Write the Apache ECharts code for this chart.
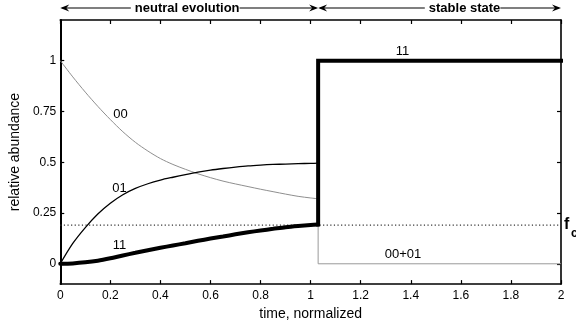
<!DOCTYPE html>
<html><head><meta charset="utf-8">
<script src="https://cdn.jsdelivr.net/npm/echarts@6/dist/echarts.min.js"></script>
<style>html,body{margin:0;padding:0;background:#fff}#c{width:576px;height:326px}</style>
</head><body><div id="c"></div>
<script>
// ---- data ----
const timeNeutral = [0,0.05,0.1,0.15,0.2,0.25,0.3,0.35,0.4,0.45,0.5,0.55,0.6,0.65,0.7,0.75,0.8,0.85,0.9,0.95,1.0,1.03];
const freq00 = [1.00,0.92,0.845,0.775,0.71,0.65,0.598,0.555,0.518,0.489,0.465,0.443,0.424,0.407,0.393,0.38,0.367,0.355,0.343,0.332,0.324,0.32];
const freq01 = [0,0.10,0.178,0.245,0.298,0.34,0.371,0.394,0.412,0.426,0.439,0.451,0.461,0.469,0.476,0.482,0.486,0.489,0.491,0.493,0.494,0.495];
const freq11 = [0,0.002,0.007,0.015,0.027,0.041,0.054,0.067,0.079,0.09,0.101,0.113,0.124,0.134,0.145,0.155,0.164,0.172,0.18,0.186,0.191,0.193];
const timeStable = [1.03,1.03,2];
const stable11 = [0.193,1,1];
const stable0001 = [0.32,0,0];
const fcTime = [0,2];
const fcLevel = [0.19,0.19];
const yTicks = [0,0.25,0.5,0.75,1];
const yTickLabels = ['0','0.25','0.5','0.75','1'];
const curveLabels = [
  {text:'00', x:0.241, y:0.736},
  {text:'01', x:0.237, y:0.369},
  {text:'11', x:0.237, y:0.089},
  {text:'11', x:1.367, y:1.046},
  {text:'00+01', x:1.369, y:0.046}
];
const phases = [
  {text:'neutral evolution', from:0, to:1.03},
  {text:'stable state', from:1.03, to:2}
];

const zip = (xs, ys) => xs.map((x,i)=>[x, ys[i]]);
const FONT = '"Liberation Sans", Arial, Helvetica, sans-serif';
const chart = echarts.init(document.getElementById('c'), null, {renderer:'canvas'});

const axisLineStyle = {color:'#000', width:1.6};
const option = {
  animation:false,
  backgroundColor:'#fff',
  textStyle:{fontFamily:FONT},
  grid:{left:56, right:15, top:20, bottom:39, containLabel:false},
  xAxis:[
    {type:'value', min:0, max:2, interval:0.2, position:'bottom',
     name:'time, normalized', nameLocation:'middle', nameGap:20,
     nameTextStyle:{fontFamily:FONT, fontSize:14, color:'#000'},
     axisLine:{show:true, onZero:false, lineStyle:axisLineStyle},
     axisTick:{show:true, inside:true, length:4, lineStyle:{color:'#000', width:1.2}},
     axisLabel:{fontFamily:FONT, fontSize:12, color:'#000', margin:6,
       formatter:v=>String(+(+v).toFixed(1))},
     splitLine:{show:false}},
    {type:'value', min:0, max:2, interval:0.2, position:'top',
     axisLine:{show:true, onZero:false, lineStyle:axisLineStyle},
     axisTick:{show:true, inside:true, length:4, lineStyle:{color:'#000', width:1.2}},
     axisLabel:{show:false}, splitLine:{show:false}}
  ],
  yAxis:[
    {type:'value', min:-0.1, max:1.2, position:'left',
     name:'relative abundance', nameLocation:'middle', nameGap:37,
     nameTextStyle:{fontFamily:FONT, fontSize:14, color:'#000'},
     axisLine:{show:true, onZero:false, lineStyle:{color:'#000', width:2}},
     axisTick:{show:true, inside:true, length:4, customValues:yTicks, lineStyle:{color:'#000', width:1.2}},
     axisLabel:{fontFamily:FONT, fontSize:12, color:'#000', margin:4, customValues:yTicks,
       formatter:v=>{const i=yTicks.findIndex(t=>Math.abs(t-v)<1e-6); return i>=0?yTickLabels[i]:'';}},
     splitLine:{show:false}},
    {type:'value', min:-0.1, max:1.2, position:'right',
     axisLine:{show:true, onZero:false, lineStyle:axisLineStyle},
     axisTick:{show:true, inside:true, length:4, customValues:yTicks, lineStyle:{color:'#000', width:1.2}},
     axisLabel:{show:false}, splitLine:{show:false}}
  ],
  series:[
    {name:'fc', type:'line', data:zip(fcTime, fcLevel), symbol:'none', z:2,
     lineStyle:{color:'#333', width:1.3, type:[1.2,2.4]}},
    {name:'00+01', type:'line', data:zip(timeStable, stable0001), symbol:'none', z:3,
     lineStyle:{color:'#9a9a9a', width:1}},
    {name:'00', type:'line', data:zip(timeNeutral, freq00), symbol:'none', smooth:0.3, z:4,
     lineStyle:{color:'#8f8f8f', width:1}},
    {name:'01', type:'line', data:zip(timeNeutral, freq01), symbol:'none', smooth:0.3, z:5,
     lineStyle:{color:'#000', width:1.3}},
    {name:'11', type:'line', data:zip(timeNeutral, freq11), symbol:'none', smooth:0.3, z:6,
     lineStyle:{color:'#000', width:4, cap:'round'}},
    {name:'11 stable', type:'line', data:zip(timeStable, stable11), symbol:'none', z:6,
     lineStyle:{color:'#000', width:4, join:'miter', cap:'square'}}
  ]
};
chart.setOption(option);

// annotations placed through the chart's own coordinate conversion
const px = (x,y) => chart.convertToPixel({xAxisIndex:0, yAxisIndex:0}, [x,y]);
const g = [];
curveLabels.forEach(l=>{
  const p = px(l.x, l.y);
  g.push({type:'text', x:p[0], y:p[1], z:100,
    style:{text:l.text, font:'13px '+FONT, fill:'#000', align:'center', verticalAlign:'middle'}});
});
const yTop = 8;
phases.forEach(ph=>{
  const a = px(ph.from,0)[0], b = px(ph.to,0)[0];
  const mid = (a+b)/2 + (ph.text==='neutral evolution' ? -2 : 25);
  const tw = echarts.format.getTextRect ? echarts.format.getTextRect(ph.text,'bold 13px '+FONT).width : ph.text.length*6.5;
  const t0 = mid - tw/2, t1 = mid + tw/2;
  g.push({type:'text', x:mid, y:yTop, style:{text:ph.text, font:'bold 13px '+FONT, fill:'#000', align:'center', verticalAlign:'middle'}});
  g.push({type:'line', shape:{x1:a+2, y1:yTop, x2:t0-4, y2:yTop}, style:{stroke:'#000', lineWidth:1.2}});
  g.push({type:'line', shape:{x1:t1, y1:yTop, x2:b-2, y2:yTop}, style:{stroke:'#000', lineWidth:1.2}});
  g.push({type:'polygon', shape:{points:[[a,yTop],[a+9,yTop-3.5],[a+6,yTop],[a+9,yTop+3.5]]}, style:{fill:'#000'}});
  g.push({type:'polygon', shape:{points:[[b,yTop],[b-9,yTop-3.5],[b-6,yTop],[b-9,yTop+3.5]]}, style:{fill:'#000'}});
});
const fcP = px(2, fcLevel[1]);
g.push({type:'text', x:fcP[0]+3, y:fcP[1]-1, style:{text:'f', font:'bold 16px '+FONT, fill:'#000', align:'left', verticalAlign:'middle'}});
g.push({type:'text', x:fcP[0]+10, y:fcP[1]+9, style:{text:'c', font:'bold 12px '+FONT, fill:'#000', align:'left', verticalAlign:'middle'}});
chart.setOption({graphic:g});
</script>
</body></html>
